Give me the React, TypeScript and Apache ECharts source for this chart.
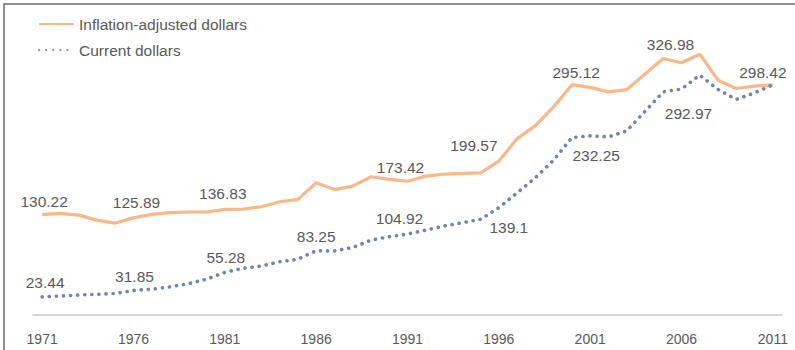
import React, { useEffect, useRef } from "react";
import * as echarts from "echarts";

const years: string[] = [
  "1971", "1972", "1973", "1974", "1975", "1976", "1977", "1978", "1979", "1980",
  "1981", "1982", "1983", "1984", "1985", "1986", "1987", "1988", "1989", "1990",
  "1991", "1992", "1993", "1994", "1995", "1996", "1997", "1998", "1999", "2000",
  "2001", "2002", "2003", "2004", "2005", "2006", "2007", "2008", "2009", "2010",
  "2011",
];

const inflationAdjusted: number[] = [
  130.22, 131.7, 129.5, 123.0, 119.2, 125.89, 130.4, 132.8, 133.5, 133.5,
  136.83, 137.2, 140.3, 146.8, 149.8, 171.4, 162.6, 167.1, 179.2, 175.8,
  173.42, 180.0, 182.6, 183.5, 184.3, 199.57, 228.6, 245.5, 269.8, 298.6,
  295.12, 289.2, 292.1, 312.5, 332.5, 326.98, 338.0, 304.4, 293.6, 296.6,
  298.42,
];

const currentDollars: number[] = [
  23.44, 24.6, 25.9, 26.8, 28.0, 31.85, 33.5, 36.5, 40.5, 46.5,
  55.28, 60.5, 63.5, 69.0, 72.2, 83.25, 83.0, 87.5, 97.0, 101.5,
  104.92, 110.0, 115.3, 119.6, 124.0, 139.1, 158.4, 178.0, 200.8, 230.0,
  232.25, 230.9, 238.7, 264.0, 289.3, 292.97, 310.9, 292.3, 279.4, 288.0,
  298.42,
];

const seriesNames: string[] = ["Inflation-adjusted dollars", "Current dollars"];

// label placement (index -> [position, dx, dy])
const orangeLabels: Record<number, [string, number, number]> = {
  0: ["top", 2, 0],
  5: ["top", 3, -2],
  10: ["top", -2, -2],
  20: ["top", -7, 0],
  25: ["top", -25, -2],
  30: ["top", -14, -1],
  35: ["top", -11, -5],
  40: ["top", -10, 1],
};
const blueLabels: Record<number, [string, number, number]> = {
  0: ["top", 3, -1],
  5: ["top", 1, 0],
  10: ["top", 1, -1],
  15: ["top", 0, -1],
  20: ["top", -8, -2],
  25: ["bottom", 10, 6],
  30: ["bottom", 6, 6],
  35: ["bottom", 7, 11],
};

const FONT = "'Liberation Sans', Arial, Helvetica, sans-serif";
const TEXT = "#595959";

function build(values: number[], labels: Record<number, [string, number, number]>) {
  return values.map((v, i) => {
    const l = labels[i];
    if (!l) return v;
    return {
      value: v,
      label: {
        show: true,
        position: l[0],
        distance: 5,
        offset: [l[1], l[2]],
        color: TEXT,
        fontSize: 15.5,
        fontFamily: FONT,
      },
    };
  });
}

export default function App() {
  const ref = useRef<HTMLDivElement>(null);
  useEffect(() => {
    document.body.style.margin = "0";
    const chart = echarts.init(ref.current!, null, { renderer: "svg" });
    chart.setOption({
      animation: false,
      backgroundColor: "#ffffff",
      textStyle: { fontFamily: FONT },
      legend: {
        orient: "vertical",
        left: 33,
        top: 11,
        itemWidth: 35,
        itemHeight: 14,
        itemGap: 10,
        itemStyle: { color: "transparent", borderWidth: 0, opacity: 0 },
        textStyle: { color: TEXT, fontSize: 15.5, fontFamily: FONT },
        data: seriesNames,
      },
      grid: { left: 33, right: 13, top: 45, bottom: 35 },
      xAxis: {
        type: "category",
        data: years,
        boundaryGap: true,
        axisLine: { lineStyle: { color: "#c9c9c9", width: 1.5 } },
        axisTick: { show: false },
        axisLabel: {
          interval: 4,
          color: TEXT,
          fontSize: 14,
          fontFamily: FONT,
          margin: 17,
        },
        splitLine: { show: false },
      },
      yAxis: {
        type: "value",
        min: 0,
        max: 350,
        show: false,
        splitLine: { show: false },
      },
      graphic: [
        {
          type: "polyline",
          shape: { points: [[4, 350], [4, 4], [795, 4]] },
          style: { stroke: "#6a6a6a", lineWidth: 1.5, fill: "none" },
          silent: true,
        },
      ],
      series: [
        {
          name: seriesNames[0],
          type: "line",
          data: build(inflationAdjusted, orangeLabels),
          symbol: "circle",
          symbolSize: 1,
          showSymbol: true,
          itemStyle: { color: "transparent", borderWidth: 0 },
          lineStyle: { color: "#fab88a", width: 3.2 },
          z: 2,
        },
        {
          name: seriesNames[1],
          type: "line",
          data: build(currentDollars, blueLabels),
          symbol: "circle",
          symbolSize: 1,
          showSymbol: true,
          itemStyle: { color: "transparent", borderWidth: 0 },
          lineStyle: { color: "#6c83c3", width: 3.6, type: [0.1, 7], cap: "round" },
          z: 3,
        },
      ],
    });
    return () => chart.dispose();
  }, []);
  return (
    <div
      ref={ref}
      style={{ position: "fixed", left: 0, top: 0, width: 795, height: 350 }}
    />
  );
}
